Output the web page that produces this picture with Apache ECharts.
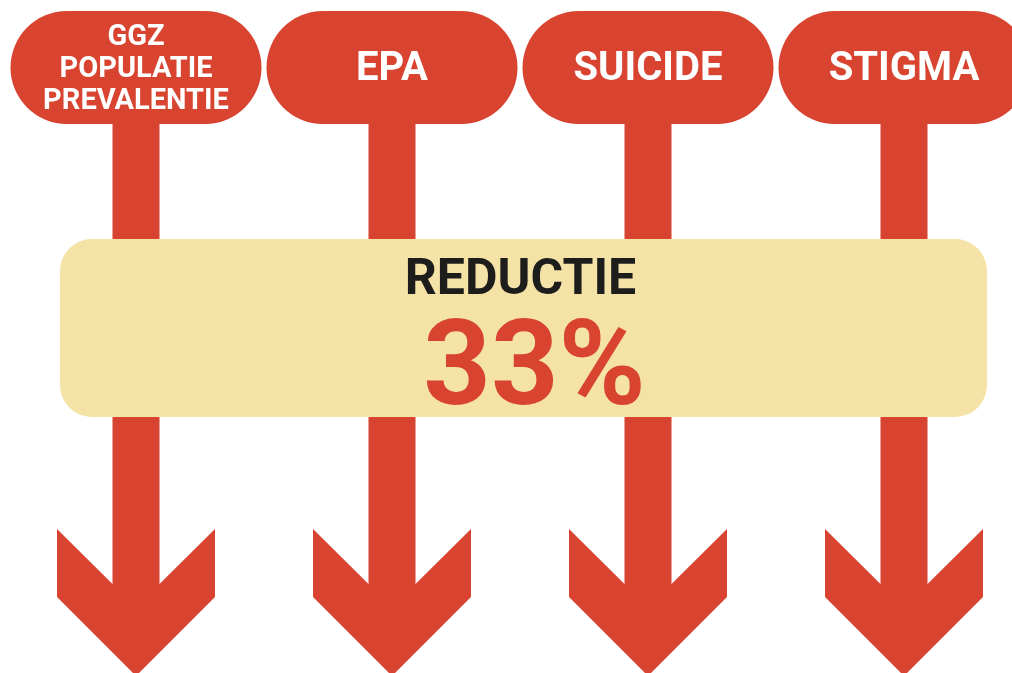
<!DOCTYPE html>
<html lang="nl">
<head>
<meta charset="UTF-8">
<title>Reductie 33%</title>
<script src="https://cdn.jsdelivr.net/npm/echarts@6/dist/echarts.min.js"></script>
</head>
<body style="margin:0;background:#ffffff;">
<div id="main" style="width:1012px;height:673px;"></div>
<script>
// the four domains that each point down
var categories = ['GGZ\nPOPULATIE\nPREVALENTIE', 'EPA', 'SUICIDE', 'STIGMA'];
var reductionLabel = 'REDUCTIE';
var reductionPercent = 33;

var RED = '#d84430';
var CREAM = '#f5e2a6';

var chart = echarts.init(document.getElementById('main'));

function renderArrow(params, api) {
    var i = api.value(0);
    var cx = api.coord([i, 0])[0];
    var top = params.coordSys.y;
    var multi = categories[i].indexOf('\n') > -1;
    var sw = 23.5, hw = 79;
    return {
        type: 'group',
        children: [
            {
                type: 'polygon',
                shape: {
                    points: [
                        [cx - sw, top + 110], [cx + sw, top + 110], [cx + sw, top + 584],
                        [cx + hw, top + 529], [cx + hw, top + 597], [cx, top + 676],
                        [cx - hw, top + 597], [cx - hw, top + 529], [cx - sw, top + 584]
                    ]
                },
                style: { fill: RED }
            },
            {
                type: 'rect',
                shape: { x: cx - 125.5, y: top + 11, width: 251, height: 113, r: 56.5 },
                style: { fill: RED }
            },
            {
                type: 'text',
                style: {
                    text: categories[i],
                    x: cx, y: top + 70,
                    align: 'center', verticalAlign: 'middle',
                    fill: '#ffffff',
                    fontFamily: 'Roboto', fontWeight: 'bold',
                    fontSize: multi ? 29 : 40,
                    lineHeight: multi ? 32 : 40
                }
            }
        ]
    };
}

function renderBanner(params, api) {
    var left = api.coord([0, 0])[0] - 76;
    var right = api.coord([categories.length - 1, 0])[0] + 83;
    var top = params.coordSys.y;
    var mid = (left + right) / 2;
    return {
        type: 'group',
        children: [
            {
                type: 'rect',
                shape: { x: left, y: top + 239, width: right - left, height: 178, r: 32 },
                style: { fill: CREAM }
            },
            {
                type: 'text',
                style: {
                    text: reductionLabel,
                    x: mid - 3, y: top + 281,
                    align: 'center', verticalAlign: 'middle',
                    fill: '#1d1d1b',
                    fontFamily: 'Roboto', fontWeight: 'bold', fontSize: 50
                }
            },
            {
                type: 'text',
                style: {
                    text: api.value(2) + '%',
                    x: mid + 11, y: top + 374,
                    align: 'center', verticalAlign: 'middle',
                    fill: RED,
                    fontFamily: 'Roboto', fontWeight: 'bold', fontSize: 118
                }
            }
        ]
    };
}

var option = {
    animation: false,
    grid: { left: 136, right: 108, top: 0, bottom: 0 },
    xAxis: { type: 'category', data: categories, boundaryGap: false, show: false },
    yAxis: { type: 'value', min: 0, max: 1, show: false },
    series: [
        {
            type: 'custom',
            renderItem: renderArrow,
            encode: { x: 0, y: 1 },
            data: categories.map(function (c, i) { return [i, 0]; }),
            clip: false,
            z: 1
        },
        {
            type: 'custom',
            renderItem: renderBanner,
            encode: { x: 0, y: 1 },
            data: [[0, 0, reductionPercent]],
            clip: false,
            z: 2
        }
    ]
};
chart.setOption(option);
</script>
</body>
</html>
